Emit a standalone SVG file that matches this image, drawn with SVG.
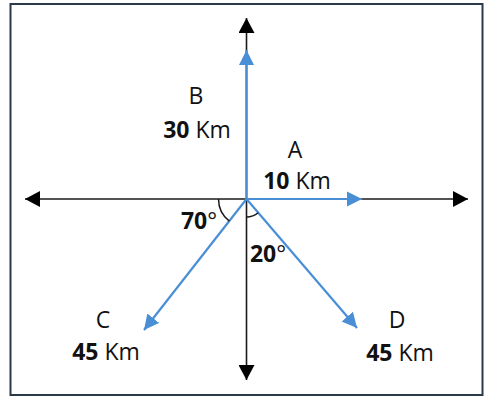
<svg xmlns="http://www.w3.org/2000/svg" width="484" height="399" viewBox="0 0 484 399">
<style>
.ax{stroke:#1a1a1a;stroke-width:1.6;fill:none}
.bl{stroke:#4a8fd6;stroke-width:2.2;fill:none}
.arc{stroke:#1a1a1a;stroke-width:1.5;fill:none}
text{font-family:"Open Sans","Noto Sans","DejaVu Sans",sans-serif;font-size:23px;fill:#111;text-anchor:middle}
.b{font-weight:bold}
</style>
<defs>
<marker id="ka" markerUnits="userSpaceOnUse" markerWidth="16" markerHeight="16" viewBox="0 0 16 16" refX="15" refY="8" orient="auto">
<path d="M0,0 L15,8 L0,16 Z" fill="#000"/>
</marker>
<marker id="ba" markerUnits="userSpaceOnUse" markerWidth="16" markerHeight="16" viewBox="0 0 16 16" refX="15" refY="8" orient="auto">
<path d="M0,0.5 L15,8 L0,15.5 Z" fill="#4a8fd6"/>
</marker>
</defs>
<rect x="10.5" y="4" width="472" height="391" fill="#fff" stroke="#2b3a48" stroke-width="2"/>
<g id="connectors">
<line class="ax" x1="246.5" y1="199" x2="468" y2="199" marker-end="url(#ka)"/>
<line class="ax" x1="246.5" y1="199" x2="25" y2="199" marker-end="url(#ka)"/>
<line class="ax" x1="246.5" y1="199" x2="246.5" y2="18" marker-end="url(#ka)"/>
<line class="ax" x1="246.5" y1="199" x2="246.5" y2="380" marker-end="url(#ka)"/>
<line class="bl" x1="246.5" y1="199" x2="246.5" y2="50" marker-end="url(#ba)"/>
<line class="bl" x1="246.5" y1="199" x2="362" y2="199" marker-end="url(#ba)"/>
<line class="bl" x1="246.5" y1="199" x2="144" y2="330" marker-end="url(#ba)"/>
<line class="bl" x1="246.5" y1="199" x2="357" y2="328" marker-end="url(#ba)"/>
<path class="arc" d="M218.5,199 A28,28 0 0 0 229.3,221.1"/>
<path class="arc" d="M246.5,217 A18,18 0 0 0 258.2,212.7"/>
</g>
<g id="B"><text x="196" y="104">B</text><text x="197" y="138"><tspan class="b">30</tspan> Km</text></g>
<g id="A"><text x="295" y="158">A</text><text x="297" y="189"><tspan class="b">10</tspan> Km</text></g>
<g id="C"><text x="103" y="328">C</text><text x="106" y="360"><tspan class="b">45</tspan> Km</text></g>
<g id="D"><text x="397" y="328">D</text><text x="400" y="361"><tspan class="b">45</tspan> Km</text></g>
<g id="angle70"><text x="199" y="229"><tspan class="b">70</tspan>°</text></g>
<g id="angle20"><text x="268" y="262"><tspan class="b">20</tspan>°</text></g>
</svg>
